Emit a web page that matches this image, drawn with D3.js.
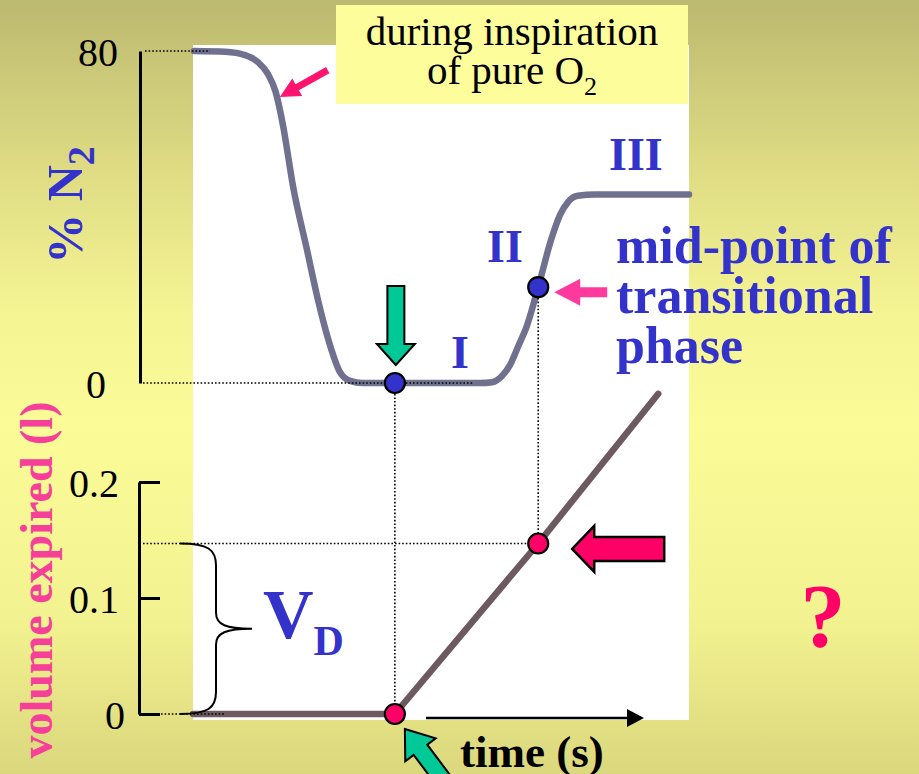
<!DOCTYPE html>
<html>
<head>
<meta charset="utf-8">
<script src="https://cdn.jsdelivr.net/npm/d3@7"></script>
<style>
  html, body { margin: 0; padding: 0; overflow: hidden; }
  svg { display: block; }
  text { font-family: "Liberation Serif", "Times New Roman", Times, "DejaVu Serif", serif; }
</style>
</head>
<body>
<svg id="chart" width="919" height="774"></svg>
<script>
// Single-breath N2 washout: % N2 at the mouth and the volume expired, against time.
const timeN2 = [0.02, 0.65, 1.05, 1.31, 1.51, 1.67, 1.81, 2.02, 2.30, 2.52, 2.76, 2.96, 3.17, 3.41,
                4.07, 5.79, 6.03, 6.23, 6.39, 6.57, 6.73, 6.96, 7.22, 7.40, 7.56, 7.76, 8.10, 10.0];
const n2Pct  = [80, 79.8, 79.0, 77.3, 74.5, 70.0, 62.4, 47.2, 32.0, 20.0, 9.2, 2.7, 0.5, 0,
                0, 0, 0.2, 1.7, 4.3, 9.2, 13.7, 23.1, 34.5, 40.5, 43.6, 45.1, 45.4, 45.4];

const timeVol    = [0, 4.07, 6.96, 9.38];
const volExpired = [0, 0, 0.147, 0.276];

// expiration of alveolar gas starts here; mid-point of phase II
const markTime = 4.07;
const midTime  = 6.96;
const midN2    = 23.1;
const midVol   = 0.147;

const n2Ticks  = [0, 80];
const volTicks = [0, 0.1, 0.2];
const phaseLabels = ["I", "II", "III"];

const BLUE = "#3333cc", PINK = "#f53f98", RED = "#ff0066", GREEN = "#00c896";
const SERIF = '"Liberation Serif", "Times New Roman", Times, "DejaVu Serif", serif';

const svg = d3.select("#chart");
const W = 919, H = 774;

// background
const defs = svg.append("defs");
const grad = defs.append("linearGradient").attr("id", "bg").attr("x1", 0).attr("y1", 0).attr("x2", 0).attr("y2", 1);
[[0, "#bcb970"], [0.2, "#dcd982"], [0.4, "#f5f493"], [0.55, "#fbfb98"], [0.8, "#f3f290"], [1, "#dad77d"]]
  .forEach(([o, c]) => grad.append("stop").attr("offset", o).attr("stop-color", c));
// soft edge for the recorder traces
defs.append("filter").attr("id", "soft").attr("x", "-5%").attr("y", "-5%").attr("width", "110%").attr("height", "110%")
  .append("feGaussianBlur").attr("stdDeviation", 0.6);
svg.append("rect").attr("width", W).attr("height", H).attr("fill", "url(#bg)");

// scales
const x    = d3.scaleLinear().domain([0, 10]).range([193, 689]);
const yN2  = d3.scaleLinear().domain([0, 80]).range([383, 51]);
const yVol = d3.scaleLinear().domain([0, 0.2]).range([714, 482]);

// plotting panel
svg.append("rect").attr("x", x(0)).attr("y", 45).attr("width", x(10) - x(0)).attr("height", 675).attr("fill", "#ffffff");

// caption box
svg.append("rect").attr("x", 336).attr("y", 5).attr("width", 352).attr("height", 99).attr("fill", "#fdfd9b");
const cap = svg.append("text").attr("x", 512).attr("text-anchor", "middle").attr("font-size", 41)
  .attr("font-family", SERIF).attr("fill", "#000");
cap.append("tspan").attr("x", 512).attr("y", 45).text("during inspiration");
const cap2 = cap.append("tspan").attr("x", 512).attr("y", 84);
cap2.append("tspan").text("of pure O");
cap2.append("tspan").attr("font-size", 26).attr("dy", 11).text("2");

// curves
const n2Data = timeN2.map((t, i) => [t, n2Pct[i]]);
const volData = timeVol.map((t, i) => [t, volExpired[i]]);

svg.append("path")
  .attr("d", d3.line().x(d => x(d[0])).y(d => yN2(d[1])).curve(d3.curveMonotoneX)(n2Data))
  .attr("fill", "none").attr("stroke", "#70708f").attr("stroke-width", 6.5)
  .attr("stroke-linecap", "round").attr("stroke-linejoin", "round").attr("filter", "url(#soft)");

svg.append("path")
  .attr("d", d3.line().x(d => x(d[0])).y(d => yVol(d[1]))(volData))
  .attr("fill", "none").attr("stroke", "#6c5a60").attr("stroke-width", 6.5)
  .attr("stroke-linecap", "round").attr("stroke-linejoin", "round").attr("filter", "url(#soft)");

// dotted guides
const dotted = svg.append("g").attr("stroke", "#000").attr("stroke-width", 1.6).attr("stroke-dasharray", "1.6,2");
const guide = (x1, y1, x2, y2) => dotted.append("line").attr("x1", x1).attr("y1", y1).attr("x2", x2).attr("y2", y2);
guide(145, yN2(80), 210, yN2(80));
guide(143, yN2(0), 473, yN2(0));
guide(143, yVol(0), 225, yVol(0));
guide(143, yVol(midVol), x(midTime), yVol(midVol));
guide(x(markTime), yN2(0), x(markTime), yVol(0));
guide(x(midTime), yN2(midN2), x(midTime), yVol(midVol));

// axes
const axN2 = svg.append("g").attr("transform", "translate(140,0)")
  .call(d3.axisLeft(yN2).tickValues(n2Ticks).tickSize(0).tickSizeOuter(0).tickPadding(22));
axN2.attr("font-family", SERIF);
axN2.select(".domain").attr("stroke-width", 3);
axN2.selectAll("text").attr("font-size", 40).attr("font-family", SERIF).attr("fill", "#000")
  .attr("dy", "0.36em").attr("dx", d => d === 0 ? -12 : 0);

const axVol = svg.append("g").attr("transform", "translate(139,0)")
  .call(d3.axisLeft(yVol).tickValues(volTicks).tickSize(-21).tickSizeOuter(0).tickPadding(20)
    .tickFormat(d => d === 0 ? "0" : d3.format(".1f")(d)));
axVol.attr("font-family", SERIF);
axVol.select(".domain").attr("stroke-width", 3);
axVol.selectAll(".tick line").attr("stroke-width", 3);
axVol.selectAll("text").attr("font-size", 40).attr("font-family", SERIF).attr("fill", "#000")
  .attr("dy", "0.36em").attr("dx", d => d === 0 ? 6 : 0);

// time axis arrow
svg.append("line").attr("x1", 426).attr("y1", 718).attr("x2", 630).attr("y2", 718)
  .attr("stroke", "#000").attr("stroke-width", 2.5);
svg.append("path").attr("d", "M644,718 L627,709 L627,727 Z").attr("fill", "#000");

// brace marking the dead-space volume
const bTop = yVol(midVol), bBot = yVol(0), bMid = (bTop + bBot) / 2;
svg.append("path")
  .attr("d", `M180,${bTop} C208,${bTop} 216,${bTop + 6} 216,${bTop + 22} L216,${bMid - 16}
              C216,${bMid - 4} 226,${bMid} 252,${bMid} C226,${bMid} 216,${bMid + 4} 216,${bMid + 16}
              L216,${bBot - 22} C216,${bBot - 6} 208,${bBot} 180,${bBot}`)
  .attr("fill", "none").attr("stroke", "#000").attr("stroke-width", 2);

// markers
const dot = (cx, cy, fill) => svg.append("circle").attr("cx", cx).attr("cy", cy).attr("r", 10)
  .attr("fill", fill).attr("stroke", "#000").attr("stroke-width", 2.2);
dot(x(markTime), yN2(0), BLUE);
dot(x(midTime), yN2(midN2), BLUE);
dot(x(markTime), yVol(0), RED);
dot(x(midTime), yVol(midVol), RED);

// block arrows
function blockArrow(tip, dir, len, shaftHW, headHW, headLen) {
  const n = Math.hypot(dir[0], dir[1]);
  const ux = dir[0] / n, uy = dir[1] / n, px = -uy, py = ux;
  const bx = tip[0] - ux * headLen, by = tip[1] - uy * headLen;
  const tx = tip[0] - ux * len, ty = tip[1] - uy * len;
  const pts = [
    [tip[0], tip[1]],
    [bx + px * headHW, by + py * headHW],
    [bx + px * shaftHW, by + py * shaftHW],
    [tx + px * shaftHW, ty + py * shaftHW],
    [tx - px * shaftHW, ty - py * shaftHW],
    [bx - px * shaftHW, by - py * shaftHW],
    [bx - px * headHW, by - py * headHW]
  ];
  return "M" + pts.map(p => p.join(",")).join("L") + "Z";
}
svg.append("path").attr("d", blockArrow([x(markTime) + 1, yN2(0) - 18], [0, 1], 79, 8.5, 19, 21))
  .attr("fill", GREEN).attr("stroke", "#000").attr("stroke-width", 2);
svg.append("path").attr("d", blockArrow([x(markTime) + 10, yVol(0) + 15], [-0.6, -0.8], 75, 8.5, 19, 26))
  .attr("fill", GREEN).attr("stroke", "#000").attr("stroke-width", 2);
svg.append("path").attr("d", blockArrow([x(midTime) + 34, yVol(midVol) + 5.5], [-1, 0], 92, 12, 23, 22))
  .attr("fill", RED).attr("stroke", "#000").attr("stroke-width", 2.5);
svg.append("path").attr("d", blockArrow([x(midTime) + 16, yN2(midN2) + 5], [-1, 0], 53, 5, 13.5, 26))
  .attr("fill", "#ff3a9c");
svg.append("path").attr("d", blockArrow([x(1.75), yN2(68.9)], [-48, 27], 55, 3.5, 10, 20))
  .attr("fill", "#ff1470");

// phase labels
const phasePos = [[x(5.38), 368], [x(6.29), 262], [x(8.93), 170]];
phaseLabels.forEach((lab, i) => svg.append("text")
  .attr("x", phasePos[i][0]).attr("y", phasePos[i][1]).attr("text-anchor", "middle")
  .attr("font-family", SERIF).attr("font-size", 46).attr("font-weight", "bold").attr("fill", BLUE).text(lab));

// mid-point note
const note = svg.append("text").attr("font-family", SERIF).attr("font-size", 52).attr("font-weight", "bold").attr("fill", BLUE);
["mid-point of", "transitional", "phase"].forEach((s, i) =>
  note.append("tspan").attr("x", 616).attr("y", 263 + i * 50).text(s));

// dead space label
const vd = svg.append("text").attr("x", 263).attr("y", 638).attr("font-family", SERIF).attr("font-weight", "bold").attr("fill", BLUE);
vd.append("tspan").attr("font-size", 70).text("V");
vd.append("tspan").attr("font-size", 42).attr("dy", 17).text("D");

// axis titles
const n2Title = svg.append("text").attr("transform", "translate(82,205) rotate(-90)")
  .attr("text-anchor", "middle").attr("font-family", SERIF).attr("font-size", 50).attr("font-weight", "bold").attr("fill", BLUE);
n2Title.append("tspan").text("% N");
n2Title.append("tspan").attr("font-size", 38).attr("dy", 12).text("2");

svg.append("text").attr("transform", "translate(52,580) rotate(-90)")
  .attr("text-anchor", "middle").attr("font-family", SERIF).attr("font-size", 46).attr("font-weight", "bold").attr("fill", PINK)
  .text("volume expired (l)");

svg.append("text").attr("x", 460).attr("y", 767).attr("font-family", SERIF).attr("font-size", 45).attr("font-weight", "bold")
  .attr("fill", "#000").text("time (s)");

svg.append("text").attr("x", 823).attr("y", 647).attr("text-anchor", "middle").attr("font-family", SERIF).attr("font-size", 90)
  .attr("font-weight", "bold").attr("fill", RED).text("?");
</script>
</body>
</html>
